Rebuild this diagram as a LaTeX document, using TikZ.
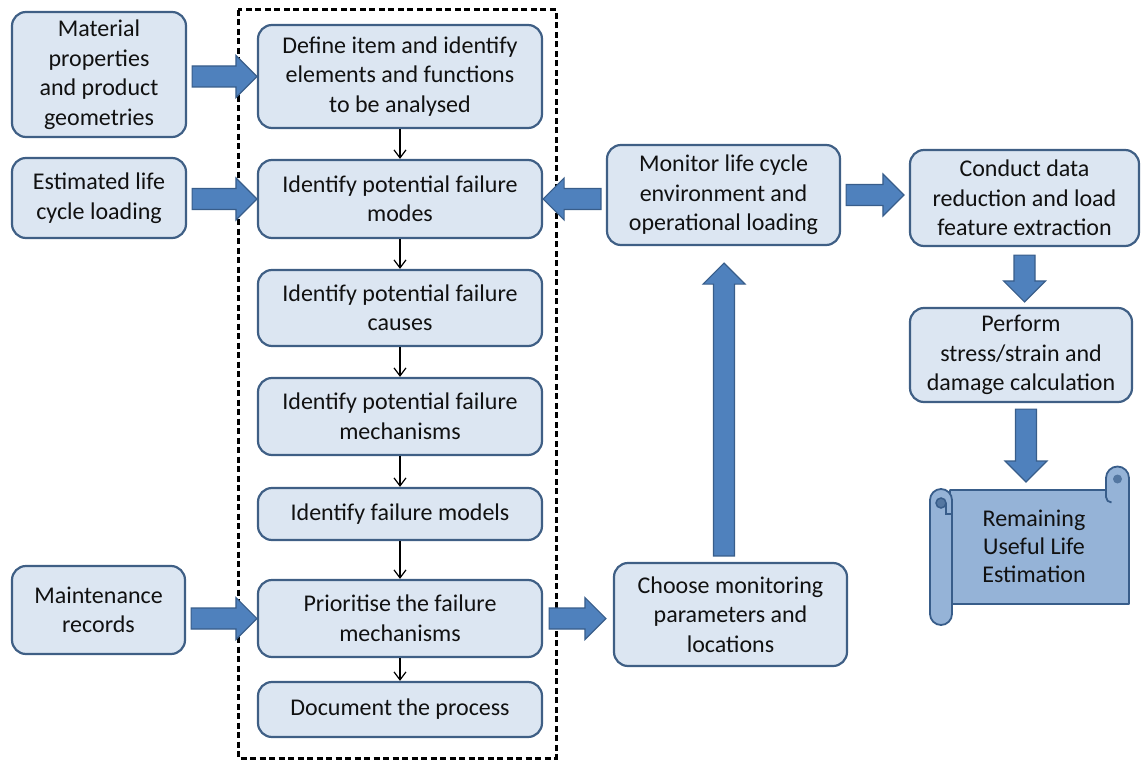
\documentclass[tikz,border=0pt]{standalone}
\usepackage{fontspec}
\setmainfont{Carlito}
\usetikzlibrary{calc,arrows.meta}
\definecolor{boxfill}{HTML}{DCE6F2}
\definecolor{boxline}{HTML}{3F5F85}
\definecolor{arrfill}{HTML}{4F81BD}
\definecolor{arrline}{HTML}{385D8A}
\definecolor{scrollfill}{HTML}{95B3D7}
\definecolor{txt}{HTML}{111111}
\begin{document}
\begin{tikzpicture}[x=1pt,y=-1pt,
  box/.style={draw=boxline, line width=2.2pt, fill=boxfill, rounded corners=14pt,
    align=center, inner sep=0pt, text=txt, font=\fontsize{24}{29.5}\selectfont},
  thinarrow/.style={line width=1.2pt, black, -{Straight Barb[length=8pt,width=12pt]}},
  barrow/.style={draw=arrline, fill=arrfill, line width=1.2pt,
    to path={
      ($(\tikztostart)!10.5pt!90:(\tikztotarget)$) --
      ($(\tikztotarget)!21pt!(\tikztostart)!10.5pt!90:(\tikztotarget)$) --
      ($(\tikztotarget)!21pt!(\tikztostart)!21pt!90:(\tikztotarget)$) --
      (\tikztotarget) --
      ($(\tikztotarget)!21pt!(\tikztostart)!21pt!-90:(\tikztotarget)$) --
      ($(\tikztotarget)!21pt!(\tikztostart)!10.5pt!-90:(\tikztotarget)$) --
      ($(\tikztostart)!10.5pt!-90:(\tikztotarget)$) -- cycle}},
  scroll/.style={draw=arrline, fill=scrollfill, line width=1.8pt, line join=round}
]
\useasboundingbox (0,0) rectangle (1141,760);

% dashed frame
\draw[line width=3pt, dash pattern=on 6pt off 3.5pt] (238,10) rectangle (556,758);

% left inputs
\node[box, minimum width=174pt, minimum height=125pt] (m) at (99,74.5) {Material\\properties\\and product\\geometries};
\node[box, minimum width=174pt, minimum height=80pt] (e) at (99,198) {Estimated life\\cycle loading};
\node[box, minimum width=173pt, minimum height=88pt] (mr) at (98.5,610) {Maintenance\\records};

% central column
\node[box, minimum width=284pt, minimum height=103pt] (d) at (400,76.5) {Define item and identify\\elements and functions\\to be analysed};
\node[box, minimum width=284pt, minimum height=78pt] (mo) at (400,199) {Identify potential failure\\modes};
\node[box, minimum width=284pt, minimum height=76pt] (ca) at (400,308) {Identify potential failure\\causes};
\node[box, minimum width=284pt, minimum height=77pt] (me) at (400,416.5) {Identify potential failure\\mechanisms};
\node[box, minimum width=284pt, minimum height=52pt] (fm) at (400,514) {Identify failure models};
\node[box, minimum width=284pt, minimum height=77pt] (pr) at (400,618.5) {Prioritise the failure\\mechanisms};
\node[box, minimum width=284pt, minimum height=55pt] (doc) at (400,709.5) {Document the process};

% right part
\node[box, minimum width=233pt, minimum height=100pt] (mon) at (723.5,195) {Monitor life cycle\\environment and\\operational loading};
\node[box, minimum width=233pt, minimum height=103pt] (ch) at (730.5,614.5) {Choose monitoring\\parameters and\\locations};
\node[box, minimum width=229pt, minimum height=96pt] (co) at (1024.5,198) {Conduct data\\reduction and load\\feature extraction};
\node[box, minimum width=222pt, minimum height=94pt] (pe) at (1021,355) {Perform\\stress/strain and\\damage calculation};

% scroll
\draw[scroll] (950,490) -- (1106,490) -- (1106,478)
  arc[start angle=180, end angle=360, radius=11.5] -- (1129,604) -- (950,604) -- cycle;
\draw[scroll] (1106,490) -- (1106,497) arc[start angle=180, end angle=90, radius=5.5];
\fill[arrline!70!scrollfill] (1117.5,479) circle[radius=4.5];
\draw[scroll] (930,500) -- (930,614) arc[start angle=180, end angle=0, radius=11]
  -- (952,500) arc[start angle=0, end angle=-180, radius=11] -- cycle;
\draw[arrline, line width=1.5pt, fill=arrline!70!scrollfill] (941,503) circle[radius=5];
\draw[arrline, line width=1.5pt] (946,503) -- (946,514) -- (952,514);
\node[align=center, text=txt, font=\fontsize{24}{28}\selectfont] (rul) at (1034,546) {Remaining\\Useful Life\\Estimation};

% thin arrows inside the column
\draw[thinarrow] (d.south) -- (mo.north);
\draw[thinarrow] (mo.south) -- (ca.north);
\draw[thinarrow] (ca.south) -- (me.north);
\draw[thinarrow] (me.south) -- (fm.north);
\draw[thinarrow] (fm.south) -- (pr.north);
\draw[thinarrow] (pr.south) -- (doc.north);

% block arrows
\coordinate (a1s) at ([xshift=5pt]m.east |- d.west);
\draw[barrow] (a1s) to (d.west);
\coordinate (a2s) at ([xshift=5pt]e.east |- mo.west);
\draw[barrow] (a2s) to (mo.west);
\coordinate (a3s) at ([xshift=5pt]mr.east |- pr.west);
\draw[barrow] (a3s) to (pr.west);
\coordinate (a4s) at ([xshift=-5pt]mon.west |- mo.east);
\draw[barrow] (a4s) to (mo.east);
\coordinate (a5s) at ([xshift=5pt]mon.east);
\coordinate (a5t) at ([xshift=-5pt]co.west |- mon.east);
\draw[barrow] (a5s) to (a5t);
\coordinate (a6s) at ([xshift=6pt]pr.east);
\coordinate (a6t) at ([xshift=-7pt]ch.west |- pr.east);
\draw[barrow] (a6s) to (a6t);
\coordinate (a7s) at ([yshift=6pt]ch.north -| 724,0);
\coordinate (a7t) at ([yshift=-17pt]mon.south -| 724,0);
\draw[barrow] (a7s) to (a7t);
\coordinate (a8s) at ([yshift=-8pt]co.south);
\coordinate (a8t) at ([yshift=5pt]pe.north -| co.south);
\draw[barrow] (a8s) to (a8t);
\coordinate (a9s) at ([yshift=-6pt]pe.south -| 1026,0);
\coordinate (a9t) at (1026,482);
\draw[barrow] (a9s) to (a9t);
\end{tikzpicture}
\end{document}
